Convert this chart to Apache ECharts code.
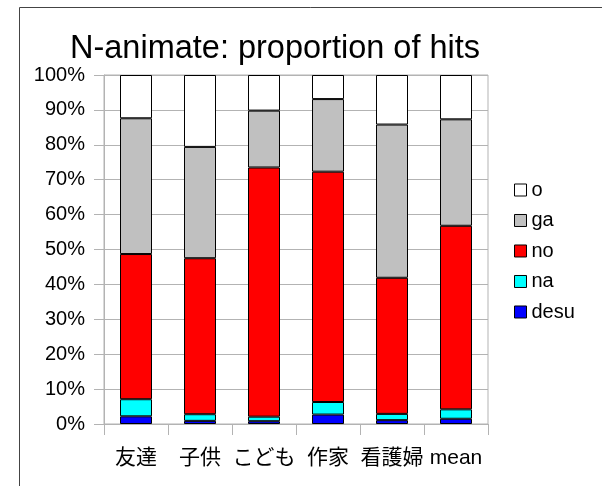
<!DOCTYPE html>
<html>
<head>
<meta charset="utf-8">
<script src="https://cdn.jsdelivr.net/npm/echarts@6/dist/echarts.min.js"></script>
<style>
html,body{margin:0;padding:0;background:#fff;}
#chart{width:602px;height:486px;}
</style>
</head>
<body>
<div id="chart"></div>
<script>
const categories = ['友達', '子供', 'こども', '作家', '看護婦', 'mean'];
const desu = [2.2, 0.9, 0.8, 2.7, 1.1, 1.5];
const na   = [4.9, 1.9, 1.3, 3.6, 1.8, 2.7];
const no   = [41.6, 44.7, 71.4, 66.0, 39.0, 52.6];
const ga   = [38.9, 31.9, 16.3, 20.8, 43.9, 30.5];
const o    = [12.4, 20.6, 10.2, 6.9, 14.2, 12.7];
const yTicks = [0, 10, 20, 30, 40, 50, 60, 70, 80, 90, 100];

const seriesDefs = [
  {name: 'desu', data: desu, color: '#0000ff'},
  {name: 'na', data: na, color: '#00ffff'},
  {name: 'no', data: no, color: '#ff0000'},
  {name: 'ga', data: ga, color: '#c0c0c0'},
  {name: 'o', data: o, color: '#ffffff'}
];

const chart = echarts.init(document.getElementById('chart'), null, {renderer: 'canvas'});
const gridColor = '#b3b3b3';
const font = '"Liberation Sans", "Noto Sans CJK JP", sans-serif';

chart.setOption({
  animation: false,
  backgroundColor: '#ffffff',
  title: {
    text: 'N-animate: proportion of hits',
    left: 270,
    textAlign: 'center',
    top: 28,
    textStyle: {fontFamily: font, fontSize: 32.5, fontWeight: 'normal', color: '#000'}
  },
  graphic: [
    {type: 'line', shape: {x1: 19.5, y1: 7.5, x2: 602, y2: 7.5}, style: {stroke: '#444', lineWidth: 1}},
    {type: 'line', shape: {x1: 19.5, y1: 7.5, x2: 19.5, y2: 486}, style: {stroke: '#444', lineWidth: 1}}
  ],
  legend: {
    orient: 'vertical',
    left: 509,
    top: 175,
    itemWidth: 12,
    itemHeight: 12,
    itemGap: 10.5,
    icon: 'rect',
    data: ['o', 'ga', 'no', 'na', 'desu'],
    itemStyle: {borderColor: '#000', borderWidth: 1},
    textStyle: {fontFamily: font, fontSize: 20, color: '#000'}
  },
  grid: {
    left: 104, right: 114, top: 75, bottom: 62,
    show: true, borderColor: gridColor, borderWidth: 1, containLabel: false
  },
  xAxis: {
    type: 'category',
    data: categories,
    axisLine: {lineStyle: {color: gridColor}},
    axisTick: {show: true, length: 11, lineStyle: {color: gridColor}},
    axisLabel: {fontFamily: font, fontSize: 21, color: '#000', margin: 24, interval: 0}
  },
  yAxis: {
    type: 'value',
    min: yTicks[0], max: yTicks[yTicks.length - 1], interval: 10,
    axisLine: {show: true, lineStyle: {color: gridColor}},
    axisTick: {show: true, length: 10, lineStyle: {color: gridColor}},
    splitLine: {lineStyle: {color: gridColor}},
    axisLabel: {fontFamily: font, fontSize: 20, color: '#000', margin: 19, formatter: '{value}%'}
  },
  series: seriesDefs.map(s => ({
    name: s.name,
    type: 'bar',
    stack: 'total',
    barWidth: '50%',
    data: s.data,
    itemStyle: {color: s.color, borderColor: '#000', borderWidth: 1}
  }))
});
</script>
</body>
</html>
